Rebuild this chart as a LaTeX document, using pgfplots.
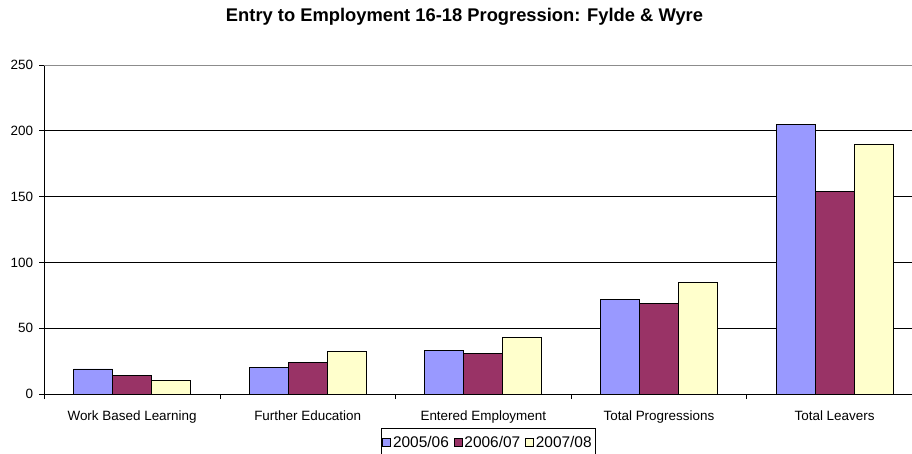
\documentclass[border=0pt]{standalone}
\usepackage{fontspec}
\setmainfont{Liberation Sans}
\usepackage{pgfplots}
\pgfplotsset{compat=1.18}
\definecolor{cA}{HTML}{9999FF}
\definecolor{cB}{HTML}{993366}
\definecolor{cC}{HTML}{FFFFCC}

\begin{document}
\begin{tikzpicture}
\begin{axis}[
  at={(44.3bp,60bp)}, anchor=south west,
  scale only axis, width=867.7bp, height=329bp,
  xmin=-0.5, xmax=4.441, ymin=0, ymax=250,
  ybar=0pt, bar width=0.222,
  every axis plot/.append style={draw=black, line width=0.8bp,
    legend image code/.code={\draw[#1, line width=0.6bp] (0bp,-4bp) rectangle (8bp,4bp);}},
  axis x line*=bottom, axis y line*=left,
  axis line style={line width=0.8bp},
  ytick={0,50,...,200}, extra y ticks={250},
  extra y tick style={grid style={draw=gray!90, line width=0.8bp}},
  ymajorgrids, grid style={black, line width=0.8bp},
  xtick={-0.5,0.5,...,3.5}, xticklabels={},
  extra x ticks={0,1,2,3,4},
  extra x tick labels={Work Based Learning, Further Education, Entered Employment, Total Progressions, Total Leavers},
  extra x tick style={major tick length=0pt},
  tick align=outside, major tick length=5bp,
  tick style={black, line width=0.8bp},
  /pgf/number format/assume math mode=true,
  tick label style={font=\fontsize{13.5}{15}\selectfont, inner sep=0pt},
  yticklabel style={anchor=east, xshift=-6bp},
  xticklabel style={anchor=base, yshift=-27bp},
  title={Entry to Employment 16-18 Progression: Fylde \& Wyre},
  title style={at={(axis description cs:0.4843,1)}, anchor=base, yshift=37.5bp,
    font=\bfseries\fontsize{18.4}{20}\selectfont},
  legend columns=-1,
  legend style={at={(axis description cs:0.5114,0)}, anchor=north, yshift=-34bp,
    draw=black, line width=0.8bp, font=\fontsize{15.5}{17}\selectfont,
    inner xsep=1.5bp, inner ysep=6bp, /tikz/every even column/.append style={column sep=3bp}},
]
\addplot[fill=cA] coordinates {(0,19) (1,20) (2,33) (3,72) (4,205)};
\addplot[fill=cB] coordinates {(0,14) (1,24) (2,31) (3,69) (4,154)};
\addplot[fill=cC] coordinates {(0,10) (1,32) (2,43) (3,85) (4,190)};
\legend{2005/06, 2006/07, 2007/08}
\end{axis}
\pgfresetboundingbox
\useasboundingbox (0,0) rectangle (912bp,454bp);
\end{tikzpicture}
\end{document}
